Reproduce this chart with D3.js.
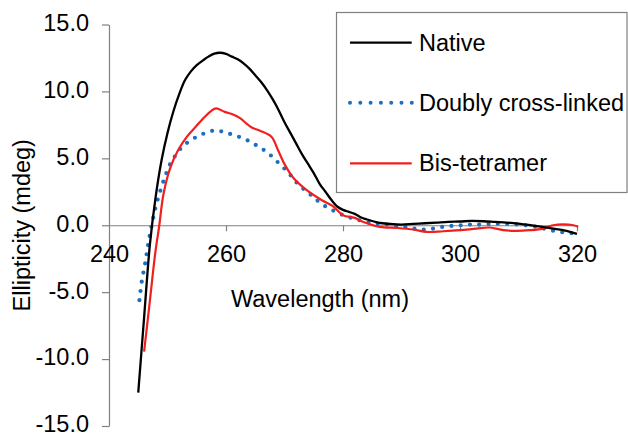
<!DOCTYPE html>
<html>
<head>
<meta charset="utf-8">
<script src="https://cdn.jsdelivr.net/npm/d3@7"></script>
<style>
  body { margin: 0; background: #fff; }
  text { font-family: "Liberation Sans", Arial, sans-serif; fill: #000; }
</style>
</head>
<body>
<div id="chart"></div>
<script>
// series data
var nativeNm = [245, 246, 247, 248, 249, 250, 251, 252, 253, 254, 255, 256, 257, 258, 259, 260, 261, 262, 263, 264, 265, 266, 267, 268, 269, 270, 271, 272, 273, 274, 275, 276, 277, 278, 279, 280, 281, 282, 283, 284, 286, 288, 290, 292, 294, 296, 298, 300, 302, 304, 306, 308, 310, 312, 314, 316, 318, 320];
var nativeMdeg = [-12.5, -6.9, -1.4, 2.2, 4.9, 6.9, 8.5, 9.8, 10.85, 11.5, 11.97, 12.3, 12.6, 12.82, 12.89, 12.8, 12.6, 12.4, 12.1, 11.7, 11.2, 10.7, 10.1, 9.4, 8.6, 7.7, 6.9, 6.1, 5.3, 4.6, 3.9, 3.1, 2.5, 1.9, 1.4, 1.15, 1.0, 0.85, 0.6, 0.45, 0.2, 0.1, 0.05, 0.1, 0.15, 0.2, 0.25, 0.28, 0.32, 0.3, 0.25, 0.2, 0.12, 0.0, -0.12, -0.25, -0.4, -0.65];

var crossNm = [245.2, 245.6, 246.2, 246.7, 247.3, 248.0, 248.9, 249.8, 250.6, 251.6, 252.6, 253.8, 255.3, 256.7, 258.3, 259.8, 261.4, 263, 264.4, 265.8, 267.1, 268.3, 269.5, 270.7, 271.7, 272.8, 274.1, 275.2, 276.5, 277.9, 279.4, 280.9, 282.4, 284, 285.8, 287.5, 289, 290.6, 292.1, 293.7, 295.4, 297, 298.6, 300.1, 301.7, 303.1, 306.3, 310, 313.1, 314.8, 316.4, 318.1, 319.7];
var crossMdeg = [-5.6, -4.2, -2.8, -1.4, 0, 1.4, 2.75, 3.9, 4.7, 5.36, 5.9, 6.3, 6.68, 6.93, 7.1, 6.93, 6.73, 6.48, 6.18, 5.8, 5.44, 4.94, 4.44, 3.91, 3.37, 2.87, 2.42, 2.0, 1.55, 1.2, 0.87, 0.62, 0.42, 0.25, 0.12, 0.05, -0.05, -0.12, -0.25, -0.32, -0.25, -0.12, -0.05, 0, 0.05, 0.05, 0.12, 0.05, -0.12, -0.3, -0.45, -0.55, -0.62];

var bisNm = [246.0, 247.0, 247.9, 248.6, 249.3, 250.4, 251.8, 253.3, 254.7, 256.1, 257.5, 258.3, 259.8, 261.2, 262.4, 263.5, 264.4, 265.8, 267.8, 268.9, 270.1, 271.5, 273.8, 276.4, 278.2, 280, 282, 283.5, 286.3, 289.2, 292, 294.3, 297.1, 300, 302.8, 305.1, 307.4, 309.7, 311.9, 314.2, 315.9, 317.6, 319.4, 320.2];
var bisMdeg = [-9.45, -5.6, -2.1, 0, 2.3, 4.2, 5.6, 6.6, 7.3, 7.98, 8.55, 8.73, 8.47, 8.27, 8.0, 7.6, 7.3, 7.07, 6.6, 5.6, 4.49, 3.55, 2.62, 1.87, 1.45, 0.75, 0.55, 0.25, -0.12, -0.2, -0.32, -0.5, -0.45, -0.37, -0.25, -0.17, -0.37, -0.42, -0.37, -0.25, 0, 0.07, 0, -0.12];

var seriesNames = ["Native", "Doubly cross-linked", "Bis-tetramer"];
var xTicks = [240, 260, 280, 300, 320];
var yTicks = [-15, -10, -5, 0, 5, 10, 15];

var width = 628, height = 437;
var axisColor = "#808080";
var fontSize = "23.5px";

var svg = d3.select("#chart")
    .append("svg")
    .attr("width", width)
    .attr("height", height);

var x = d3.scaleLinear().domain([240, 320]).range([109, 577]);
var y = d3.scaleLinear().domain([-15, 15]).range([426, 24.5]);

// y axis
var yAxis = svg.append("g")
    .attr("transform", `translate(${x(240)}, 0)`)
    .call(d3.axisLeft(y).tickValues(yTicks).tickSize(7).tickSizeOuter(0).tickPadding(13)
        .tickFormat(function(d) { return d.toFixed(1); }));

// x axis along zero line
var xAxis = svg.append("g")
    .attr("transform", `translate(0, ${y(0)})`)
    .call(d3.axisBottom(x).tickValues(xTicks).tickSize(6).tickSizeOuter(0).tickPadding(14.5)
        .tickFormat(d3.format("d")));

[yAxis, xAxis].forEach(function(a) {
    a.selectAll("path, line").attr("stroke", axisColor).attr("stroke-width", 1.2);
    a.selectAll("text").style("font-size", fontSize).style("font-family", "Liberation Sans, Arial, sans-serif").attr("fill", "#000");
});
yAxis.selectAll("text").attr("dy", "0.25em");
xAxis.selectAll(".tick").filter(function(d) { return d === 240; }).select("line").remove();

svg.append("text")
    .attr("x", 320)
    .attr("y", 307)
    .style("text-anchor", "middle")
    .style("font-size", fontSize)
    .text("Wavelength (nm)");

svg.append("text")
    .attr("transform", `translate(30, ${y(0)}) rotate(-90)`)
    .style("text-anchor", "middle")
    .style("font-size", fontSize)
    .text("Ellipticity (mdeg)");

var line = d3.line()
    .x(function(d) { return x(d[0]); })
    .y(function(d) { return y(d[1]); })
    .curve(d3.curveCatmullRom);

function pairs(a, b) { return a.map(function(v, i) { return [v, b[i]]; }); }

var styles = [
    {color: "#000000", width: 2.3, dash: null, cap: "butt"},
    {color: "#1d6fc0", width: 4.2, dash: "0, 9.3", cap: "round"},
    {color: "#f0201e", width: 2.2, dash: null, cap: "butt"}
];
var data = [pairs(nativeNm, nativeMdeg), pairs(crossNm, crossMdeg), pairs(bisNm, bisMdeg)];

// draw order: dotted first, then red, then black
[1, 2, 0].forEach(function(i) {
    svg.append("path")
        .datum(data[i])
        .attr("d", line)
        .attr("fill", "none")
        .attr("stroke", styles[i].color)
        .attr("stroke-width", styles[i].width)
        .attr("stroke-linecap", styles[i].cap)
        .attr("stroke-dasharray", styles[i].dash);
});

// legend
var legend = svg.append("g");
legend.append("rect")
    .attr("x", 336.5).attr("y", 12.5)
    .attr("width", 290.5).attr("height", 180)
    .attr("fill", "#fff")
    .attr("stroke", axisColor)
    .attr("stroke-width", 1.2);

var rowY = [42.7, 102.7, 163.3];
seriesNames.forEach(function(name, i) {
    legend.append("line")
        .attr("x1", 350).attr("x2", i === 1 ? 412 : 411.7)
        .attr("y1", rowY[i]).attr("y2", rowY[i])
        .attr("stroke", styles[i].color)
        .attr("stroke-width", i === 1 ? 4 : 2.3)
        .attr("stroke-linecap", styles[i].cap)
        .attr("stroke-dasharray", i === 1 ? "0, 10.3" : null);
    legend.append("text")
        .attr("x", 419)
        .attr("y", rowY[i] + 8)
        .style("font-size", fontSize)
        .text(name);
});
</script>
</body>
</html>
